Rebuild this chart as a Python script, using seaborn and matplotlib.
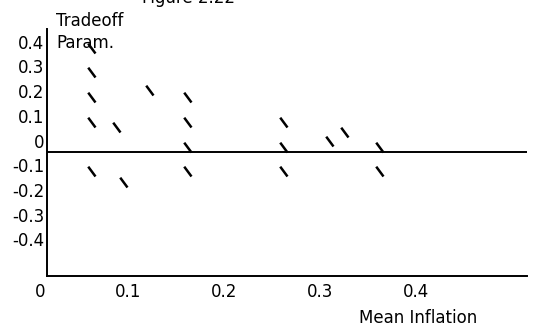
import matplotlib
matplotlib.use("Agg")
import matplotlib.pyplot as plt
import seaborn as sns
import pandas as pd
from matplotlib.path import Path
from matplotlib.transforms import ScaledTranslation

# ---- data ----
mean_inflation = [0.05, 0.05, 0.05, 0.05, 0.05,
                  0.076, 0.083, 0.11,
                  0.15, 0.15, 0.15, 0.15,
                  0.25, 0.25, 0.25,
                  0.298, 0.314,
                  0.35, 0.35]
tradeoff_param = [0.40, 0.30, 0.20, 0.10, -0.10,
                  0.077, -0.145, 0.229,
                  0.20, 0.10, 0.0, -0.10,
                  0.10, 0.0, -0.10,
                  0.022, 0.059,
                  0.0, -0.10]
x_ticks = [0.0, 0.1, 0.2, 0.3, 0.4]
x_tick_labels = ["0", "0.1", "0.2", "0.3", "0.4"]
y_ticks = [0.4, 0.3, 0.2, 0.1, 0.0, -0.1, -0.2, -0.3, -0.4]
y_tick_labels = ["0.4", "0.3", "0.2", "0.1", "0", "-0.1", "-0.2", "-0.3", "-0.4"]
title = "Figure 2.22"
y_title_lines = ["Tradeoff", "Param."]
x_title = "Mean Inflation"

df = pd.DataFrame({"mean_inflation": mean_inflation, "tradeoff": tradeoff_param})

sns.set_theme(style="white")
plt.rcParams["font.family"] = ["DejaVu Sans"]
plt.rcParams["font.size"] = 12
plt.rcParams["text.color"] = "black"
plt.rcParams["axes.labelcolor"] = "black"

W, H = 533, 333
fig = plt.figure(figsize=(W / 100, H / 100), dpi=100)
ax = fig.add_axes([47 / W, 57 / H, 480 / W, 247 / H])

# slash-like marker anchored at its lower-right end
slash = Path([(0.0, 0.0), (-0.74, 1.0)], [Path.MOVETO, Path.LINETO])
sns.scatterplot(data=df, x="mean_inflation", y="tradeoff", marker=slash, s=200,
                color="black", edgecolor="black", linewidth=1.8, ax=ax,
                legend=False, zorder=5)

ax.axhline(0, color="black", lw=1.4, zorder=3)
ax.set_xlim(0, 0.5)
ax.set_ylim(-0.504, 0.496)

sns.despine(ax=ax)
for side in ("left", "bottom"):
    ax.spines[side].set_color("black")
    ax.spines[side].set_linewidth(1.4)

ax.set_xticks(x_ticks, labels=x_tick_labels)
ax.set_yticks(y_ticks, labels=y_tick_labels)
ax.tick_params(axis="both", length=0, colors="black", labelsize=12)
ax.tick_params(axis="x", pad=4.7)
ax.tick_params(axis="y", pad=2.0)

for lab in ax.get_xticklabels():
    lab.set_horizontalalignment("right")
    lab.set_transform(lab.get_transform() + ScaledTranslation(-1.5 / 100, 0, fig.dpi_scale_trans))
for lab in ax.get_yticklabels():
    lab.set_verticalalignment("baseline")
    lab.set_transform(lab.get_transform() + ScaledTranslation(0, 4 / 100, fig.dpi_scale_trans))

ax.set_xlabel(x_title, fontsize=12, va="baseline", ha="center", color="black")
ax.xaxis.set_label_coords((418.3 - 47) / 480, (276 - 323.3) / 247)
ax.set_ylabel("")

fig.text(56 / W, 1 - 26 / H, y_title_lines[0], ha="left", va="baseline", fontsize=12, color="black")
fig.text(56 / W, 1 - 48.3 / H, y_title_lines[1], ha="left", va="baseline", fontsize=12, color="black")
fig.text(189 / W, 1 - 3.3 / H, title, ha="center", va="baseline", fontsize=12, color="black")

fig.savefig("out.png", dpi=100)
